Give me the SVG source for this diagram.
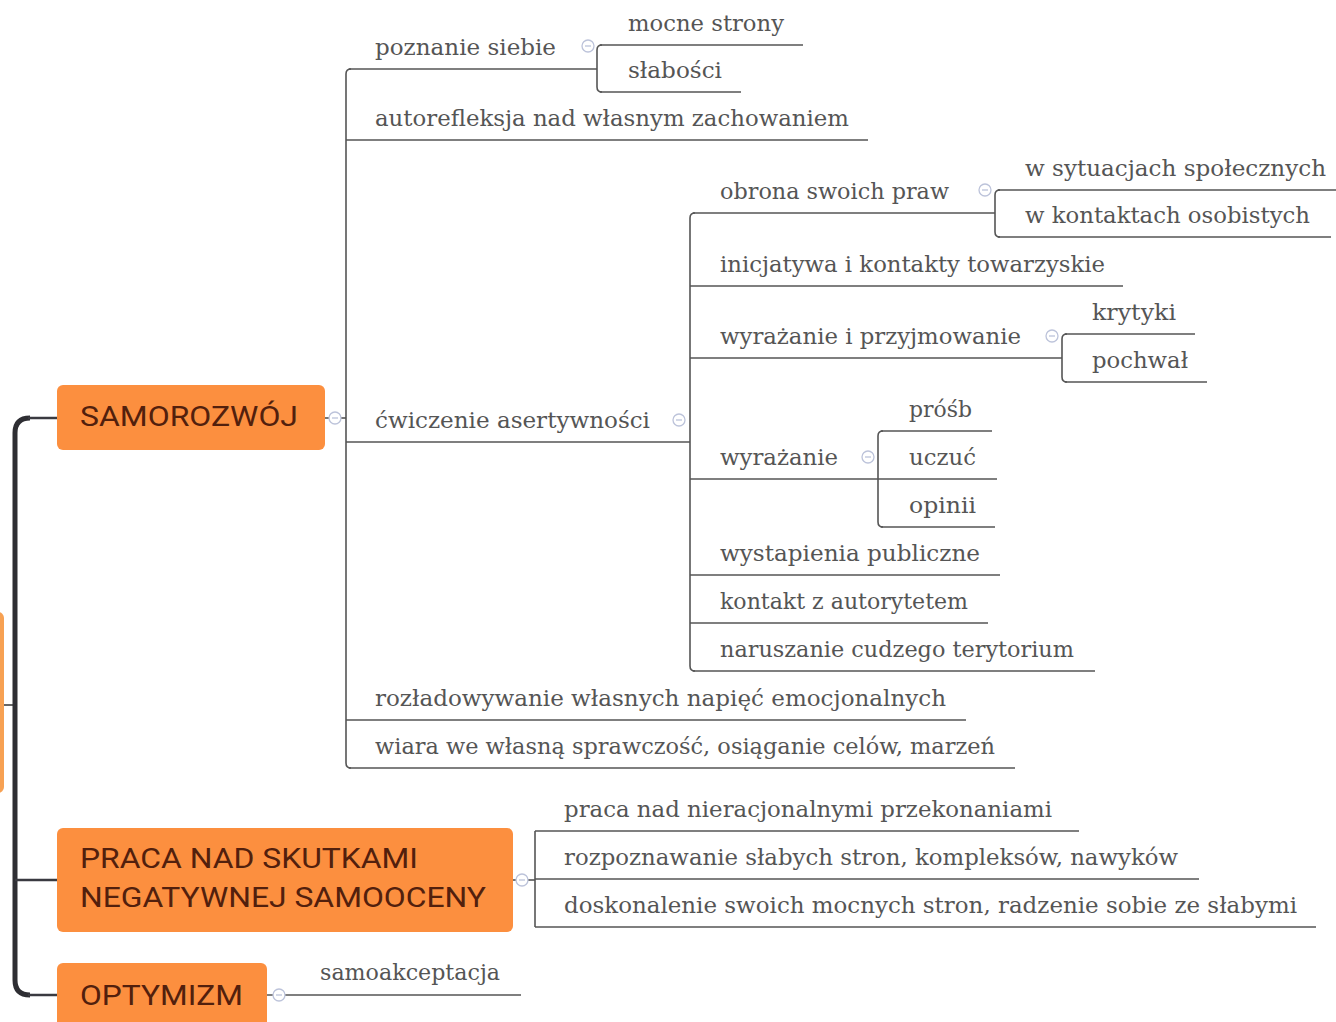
<svg xmlns="http://www.w3.org/2000/svg" width="1336" height="1022" viewBox="0 0 1336 1022">
<defs>
<style>
.t{font-family:"DejaVu Serif","Liberation Serif",serif;font-size:23px;fill:#555;}
.m{font-family:Roboto,"Liberation Sans",sans-serif;font-size:28px;fill:#52200d;}
.box{fill:#fc8f3f;}
.ln{fill:none;stroke:#555;stroke-width:1.6;}
.tr{fill:none;stroke:#2e2e33;stroke-width:5;}
.br{fill:none;stroke:#3a3a40;stroke-width:2.5;}
.cc{fill:#fff;stroke:#bcc3da;stroke-width:1.3;}
.cm{stroke:#bcc3da;stroke-width:1.3;}
</style>
</defs>
<rect width="1336" height="1022" fill="#fff"/>

<g id="connectors">
  <line class="br" x1="0" y1="705" x2="15" y2="705" style="stroke:#666;stroke-width:2"/>
  <path class="tr" d="M30,418 Q15,418 15,433 V980 Q15,995 30,995"/>
  <line class="br" x1="28" y1="418" x2="57" y2="418"/>
  <line class="br" x1="15" y1="880" x2="57" y2="880"/>
  <line class="br" x1="28" y1="995" x2="57" y2="995"/>
  <line class="ln" x1="325" y1="418" x2="346" y2="418"/>
  <path class="ln" d="M351,69 Q346,69 346,74 V763 Q346,768 351,768"/>
  <line class="ln" x1="349" y1="69" x2="597" y2="69"/>
  <line class="ln" x1="346" y1="140" x2="868" y2="140"/>
  <line class="ln" x1="346" y1="442" x2="690" y2="442"/>
  <line class="ln" x1="346" y1="720" x2="966" y2="720"/>
  <line class="ln" x1="349" y1="768" x2="1015" y2="768"/>
  <path class="ln" d="M602,45 Q597,45 597,50 V87 Q597,92 602,92"/>
  <line class="ln" x1="600" y1="45" x2="803" y2="45"/>
  <line class="ln" x1="600" y1="92" x2="741" y2="92"/>
  <path class="ln" d="M695,213 Q690,213 690,218 V666 Q690,671 695,671"/>
  <line class="ln" x1="693" y1="213" x2="995" y2="213"/>
  <line class="ln" x1="690" y1="286" x2="1123" y2="286"/>
  <line class="ln" x1="690" y1="358" x2="1062" y2="358"/>
  <line class="ln" x1="690" y1="479" x2="878" y2="479"/>
  <line class="ln" x1="690" y1="575" x2="1000" y2="575"/>
  <line class="ln" x1="690" y1="623" x2="988" y2="623"/>
  <line class="ln" x1="693" y1="671" x2="1095" y2="671"/>
  <path class="ln" d="M1000,190 Q995,190 995,195 V232 Q995,237 1000,237"/>
  <line class="ln" x1="998" y1="190" x2="1336" y2="190"/>
  <line class="ln" x1="998" y1="237" x2="1331" y2="237"/>
  <path class="ln" d="M1067,334 Q1062,334 1062,339 V377 Q1062,382 1067,382"/>
  <line class="ln" x1="1065" y1="334" x2="1195" y2="334"/>
  <line class="ln" x1="1065" y1="382" x2="1207" y2="382"/>
  <path class="ln" d="M883,431 Q878,431 878,436 V522 Q878,527 883,527"/>
  <line class="ln" x1="881" y1="431" x2="992" y2="431"/>
  <line class="ln" x1="878" y1="479" x2="997" y2="479"/>
  <line class="ln" x1="881" y1="527" x2="995" y2="527"/>
  <line class="ln" x1="513" y1="880" x2="535" y2="880"/>
  <path class="ln" d="M535,831 V927"/>
  <line class="ln" x1="535" y1="831" x2="1079" y2="831"/>
  <line class="ln" x1="535" y1="879" x2="1199" y2="879"/>
  <line class="ln" x1="535" y1="927" x2="1316" y2="927"/>
  <line class="ln" x1="267" y1="995" x2="521" y2="995"/>
  <g id="collapsers">
    <circle class="cc" cx="335" cy="418" r="6"/><line class="cm" x1="332" y1="418" x2="338" y2="418"/>
    <circle class="cc" cx="588" cy="46" r="6"/><line class="cm" x1="585" y1="46" x2="591" y2="46"/>
    <circle class="cc" cx="679" cy="420" r="6"/><line class="cm" x1="676" y1="420" x2="682" y2="420"/>
    <circle class="cc" cx="985" cy="190" r="6"/><line class="cm" x1="982" y1="190" x2="988" y2="190"/>
    <circle class="cc" cx="1052" cy="336" r="6"/><line class="cm" x1="1049" y1="336" x2="1055" y2="336"/>
    <circle class="cc" cx="868" cy="457" r="6"/><line class="cm" x1="865" y1="457" x2="871" y2="457"/>
    <circle class="cc" cx="522" cy="880" r="6"/><line class="cm" x1="519" y1="880" x2="525" y2="880"/>
    <circle class="cc" cx="279" cy="995" r="6"/><line class="cm" x1="276" y1="995" x2="282" y2="995"/>
  </g>
</g>

<g id="root"><rect x="-200" y="612" width="204" height="181" rx="6" fill="#f7a153"/></g>

<g id="samorozwoj"><rect class="box" x="57" y="385" width="268" height="65" rx="6"/><text class="m" x="80" y="426" textLength="218" lengthAdjust="spacingAndGlyphs">SAMOROZWÓJ</text></g>
<g id="praca"><rect class="box" x="57" y="828" width="456" height="104" rx="6"/><text class="m" x="80" y="868" textLength="338" lengthAdjust="spacingAndGlyphs">PRACA NAD SKUTKAMI</text><text class="m" x="80" y="907" textLength="406" lengthAdjust="spacingAndGlyphs">NEGATYWNEJ SAMOOCENY</text></g>
<g id="optymizm"><rect class="box" x="57" y="963" width="210" height="80" rx="6"/><text class="m" x="80" y="1005" textLength="163" lengthAdjust="spacingAndGlyphs">OPTYMIZM</text></g>

<g id="poznanie-siebie"><text class="t" x="375" y="55" textLength="181" lengthAdjust="spacingAndGlyphs">poznanie siebie</text></g>
<g id="mocne-strony"><text class="t" x="628" y="31" textLength="156" lengthAdjust="spacingAndGlyphs">mocne strony</text></g>
<g id="slabosci"><text class="t" x="628" y="78" textLength="94" lengthAdjust="spacingAndGlyphs">słabości</text></g>
<g id="autorefleksja"><text class="t" x="375" y="126" textLength="474" lengthAdjust="spacingAndGlyphs">autorefleksja nad własnym zachowaniem</text></g>
<g id="cwiczenie"><text class="t" x="375" y="428" textLength="275" lengthAdjust="spacingAndGlyphs">ćwiczenie asertywności</text></g>
<g id="obrona"><text class="t" x="720" y="199" textLength="229" lengthAdjust="spacingAndGlyphs">obrona swoich praw</text></g>
<g id="w-sytuacjach"><text class="t" x="1025" y="176" textLength="301" lengthAdjust="spacingAndGlyphs">w sytuacjach społecznych</text></g>
<g id="w-kontaktach"><text class="t" x="1025" y="223" textLength="285" lengthAdjust="spacingAndGlyphs">w kontaktach osobistych</text></g>
<g id="inicjatywa"><text class="t" x="720" y="272" textLength="385" lengthAdjust="spacingAndGlyphs">inicjatywa i kontakty towarzyskie</text></g>
<g id="wyrazanie-i-przyjmowanie"><text class="t" x="720" y="344" textLength="301" lengthAdjust="spacingAndGlyphs">wyrażanie i przyjmowanie</text></g>
<g id="krytyki"><text class="t" x="1092" y="320" textLength="84" lengthAdjust="spacingAndGlyphs">krytyki</text></g>
<g id="pochwal"><text class="t" x="1092" y="368" textLength="96" lengthAdjust="spacingAndGlyphs">pochwał</text></g>
<g id="wyrazanie"><text class="t" x="720" y="465" textLength="118" lengthAdjust="spacingAndGlyphs">wyrażanie</text></g>
<g id="prosb"><text class="t" x="909" y="417" textLength="63" lengthAdjust="spacingAndGlyphs">próśb</text></g>
<g id="uczuc"><text class="t" x="909" y="465" textLength="67" lengthAdjust="spacingAndGlyphs">uczuć</text></g>
<g id="opinii"><text class="t" x="909" y="513" textLength="67" lengthAdjust="spacingAndGlyphs">opinii</text></g>
<g id="wystapienia"><text class="t" x="720" y="561" textLength="260" lengthAdjust="spacingAndGlyphs">wystapienia publiczne</text></g>
<g id="kontakt"><text class="t" x="720" y="609" textLength="248" lengthAdjust="spacingAndGlyphs">kontakt z autorytetem</text></g>
<g id="naruszanie"><text class="t" x="720" y="657" textLength="354" lengthAdjust="spacingAndGlyphs">naruszanie cudzego terytorium</text></g>
<g id="rozladowywanie"><text class="t" x="375" y="706" textLength="571" lengthAdjust="spacingAndGlyphs">rozładowywanie własnych napięć emocjonalnych</text></g>
<g id="wiara"><text class="t" x="375" y="754" textLength="620" lengthAdjust="spacingAndGlyphs">wiara we własną sprawczość, osiąganie celów, marzeń</text></g>
<g id="praca-nad"><text class="t" x="564" y="817" textLength="488" lengthAdjust="spacingAndGlyphs">praca nad nieracjonalnymi przekonaniami</text></g>
<g id="rozpoznawanie"><text class="t" x="564" y="865" textLength="614" lengthAdjust="spacingAndGlyphs">rozpoznawanie słabych stron, kompleksów, nawyków</text></g>
<g id="doskonalenie"><text class="t" x="564" y="913" textLength="733" lengthAdjust="spacingAndGlyphs">doskonalenie swoich mocnych stron, radzenie sobie ze słabymi</text></g>
<g id="samoakceptacja"><text class="t" x="320" y="980" textLength="180" lengthAdjust="spacingAndGlyphs">samoakceptacja</text></g>
</svg>
